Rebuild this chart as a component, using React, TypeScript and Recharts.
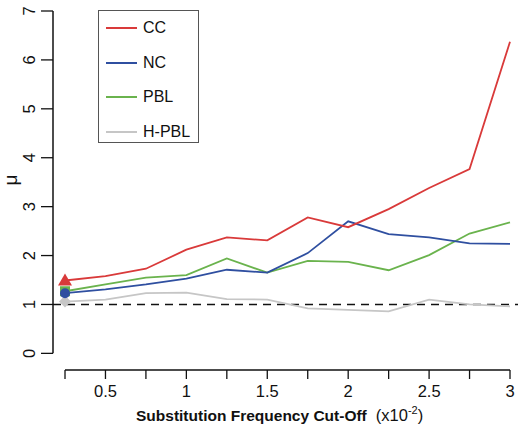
import React from "react";
import {
  ComposedChart,
  Line,
  XAxis,
  YAxis,
  ReferenceLine,
  Legend,
} from "recharts";

const cutoffs = [0.25, 0.5, 0.75, 1, 1.25, 1.5, 1.75, 2, 2.25, 2.5, 2.75, 3];
const ccValues = [1.49, 1.58, 1.73, 2.12, 2.37, 2.31, 2.78, 2.58, 2.95, 3.38, 3.77, 6.37];
const ncValues = [1.23, 1.31, 1.41, 1.53, 1.71, 1.65, 2.05, 2.7, 2.44, 2.37, 2.25, 2.24];
const pblValues = [1.27, 1.41, 1.55, 1.6, 1.94, 1.65, 1.89, 1.87, 1.7, 2.01, 2.45, 2.68];
const hpblValues = [1.06, 1.1, 1.23, 1.24, 1.11, 1.1, 0.92, 0.89, 0.86, 1.1, 1.0, 0.96];
const xTicks = cutoffs;
const yTicks = [0, 1, 2, 3, 4, 5, 6, 7];

const data = cutoffs.map((x, i) => ({
  x,
  cc: ccValues[i],
  nc: ncValues[i],
  pbl: pblValues[i],
  hpbl: hpblValues[i],
}));

const X_MIN = 0.1758;
const X_MAX = 3.0494;
const Y_MIN = -0.34;
const Y_MAX = 7;

const FONT = "'Liberation Sans', Arial, Helvetica, sans-serif";

const series = [
  { key: "hpbl", name: "H-PBL", color: "#c6c6c6", marker: "diamond" },
  { key: "pbl", name: "PBL", color: "#6ab34d", marker: "square" },
  { key: "nc", name: "NC", color: "#2f4fa0", marker: "circle" },
  { key: "cc", name: "CC", color: "#d93a3a", marker: "triangle" },
];

function firstMarker(marker: string, color: string) {
  return (props: any) => {
    const { cx, cy, index } = props;
    if (index !== 0 || cx == null) return <g key={`d-${index}`} />;
    if (marker === "triangle") {
      return (
        <polygon
          key="m"
          points={`${cx},${cy - 7} ${cx - 7},${cy + 5} ${cx + 7},${cy + 5}`}
          fill={color}
        />
      );
    }
    if (marker === "square") {
      return <rect key="m" x={cx - 5} y={cy - 5} width={10} height={10} fill={color} />;
    }
    if (marker === "diamond") {
      return (
        <polygon
          key="m"
          points={`${cx},${cy - 6} ${cx + 6},${cy} ${cx},${cy + 6} ${cx - 6},${cy}`}
          fill={color}
        />
      );
    }
    return <circle key="m" cx={cx} cy={cy} r={5} fill={color} />;
  };
}

function XTick(props: any) {
  const { x, y, payload } = props;
  const v = payload.value;
  if (Math.round(v * 100) % 50 !== 0) return <g />;
  return (
    <text x={x} y={y + 18} textAnchor="middle" fontSize={16.5} fontFamily={FONT} fill="#111">
      {String(v)}
    </text>
  );
}

function YTick(props: any) {
  const { y, payload } = props;
  const cx = 29;
  return (
    <text
      x={cx}
      y={y}
      dy={6}
      textAnchor="middle"
      fontSize={16.5}
      fontFamily={FONT}
      fill="#111"
      transform={`rotate(-90, ${cx}, ${y})`}
    >
      {payload.value}
    </text>
  );
}

function LegendBox() {
  const items = [...series].reverse();
  return (
    <div
      style={{
        width: 99,
        height: 131,
        border: "1.5px solid #555",
        background: "#fff",
        fontFamily: FONT,
        fontSize: 16,
        color: "#111",
      }}
    >
      {items.map((s) => (
        <div
          key={s.key}
          style={{ height: 34.5, display: "flex", alignItems: "center" }}
        >
          <div style={{ width: 31, height: 2, background: s.color, marginLeft: 7, marginRight: 6 }} />
          <span>{s.name}</span>
        </div>
      ))}
    </div>
  );
}

export default function App() {
  return (
    <div style={{ position: "absolute", left: 0, top: 0, background: "#fff" }}>
      <ComposedChart
        width={519}
        height={430}
        data={data}
        margin={{ top: 11, right: 1, bottom: 30, left: 0 }}
      >
        <XAxis
          type="number"
          dataKey="x"
          domain={[X_MIN, X_MAX]}
          allowDataOverflow
          ticks={xTicks}
          interval={0}
          axisLine={false}
          tickLine={{ stroke: "#111", strokeWidth: 1.3 }}
          tickSize={9}
          tickMargin={0}
          tick={<XTick />}
          height={30}
          label={{
            content: () => (
              <text x={136} y={421} textAnchor="start" fontFamily={FONT} fontSize={15.5} fill="#111">
                <tspan fontWeight="bold">Substitution Frequency Cut-Off</tspan>
                <tspan dx={9} fontSize={16.5}>(x10</tspan>
                <tspan dy={-7} fontSize={11}>-2</tspan>
                <tspan dy={7} fontSize={16.5}>)</tspan>
              </text>
            ),
          }}
        />
        <YAxis
          type="number"
          domain={[Y_MIN, Y_MAX]}
          allowDataOverflow
          ticks={yTicks}
          interval={0}
          width={53}
          axisLine={false}
          tickLine={{ stroke: "#111", strokeWidth: 1.3 }}
          tickSize={12}
          tickMargin={0}
          tick={<YTick />}
          label={{
            content: () => (
              <text
                x={12}
                y={180}
                dy={5}
                textAnchor="middle"
                fontFamily={FONT}
                fontSize={19}
                fill="#111"
                transform="rotate(-90, 12, 180)"
              >
                μ
              </text>
            ),
          }}
        />
        <ReferenceLine
          segment={[
            { x: X_MIN, y: 0 },
            { x: X_MIN, y: Y_MAX },
          ]}
          stroke="#111"
          strokeWidth={1.5}
          ifOverflow="visible"
        />
        <ReferenceLine
          segment={[
            { x: 0.25, y: Y_MIN },
            { x: 3, y: Y_MIN },
          ]}
          stroke="#111"
          strokeWidth={1.5}
          ifOverflow="visible"
        />
        <ReferenceLine y={1} stroke="#111" strokeWidth={1.5} strokeDasharray="8 6" />
        <Legend
          layout="vertical"
          verticalAlign="middle"
          align="center"
          content={<LegendBox />}
          wrapperStyle={{ position: "absolute", left: 98, top: 10, width: 101 }}
        />
        {series.map((s) => (
          <Line
            key={s.key}
            type="linear"
            dataKey={s.key}
            name={s.name}
            stroke={s.color}
            strokeWidth={1.8}
            dot={firstMarker(s.marker, s.color)}
            activeDot={false}
            isAnimationActive={false}
          />
        ))}
      </ComposedChart>
    </div>
  );
}
